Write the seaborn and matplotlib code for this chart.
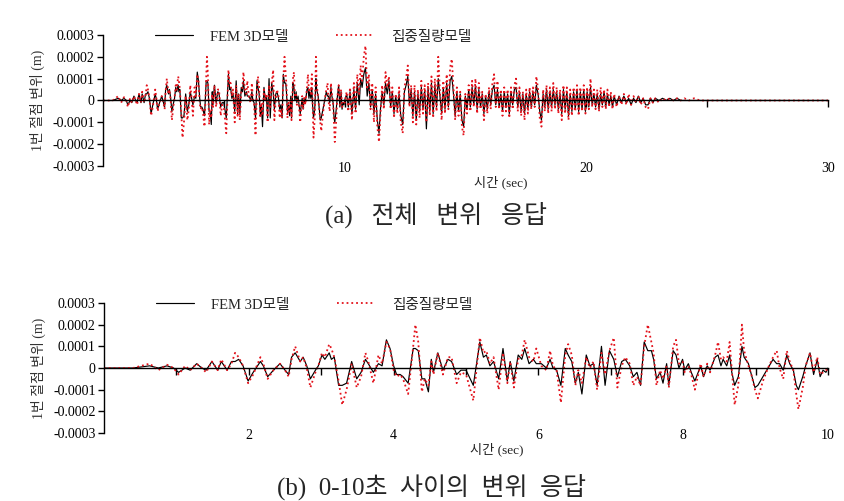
import numpy as np
import pandas as pd
import matplotlib
matplotlib.use("Agg")
import matplotlib.pyplot as plt
import seaborn as sns

# ---------------- data (displacement in units of 1e-5 m) ----------------
t_a = [0.00, 0.40, 0.63, 0.75, 0.87, 0.96, 1.03, 1.12, 1.19, 1.28, 1.35, 1.41, 1.49, 1.53,
       1.57, 1.62, 1.70, 1.76, 1.81, 1.86, 1.92, 1.99, 2.06, 2.16, 2.20, 2.26, 2.34, 2.43,
       2.50, 2.55, 2.59, 2.64, 2.71, 2.75, 2.80, 2.85, 2.92, 2.96, 3.01, 3.05, 3.11, 3.14,
       3.18, 3.24, 3.29, 3.35, 3.42, 3.49, 3.55, 3.61, 3.65, 3.72, 3.79, 3.84, 3.90, 3.95,
       4.00, 4.04, 4.09, 4.13, 4.20, 4.27, 4.30, 4.34, 4.39, 4.43, 4.48, 4.52, 4.55, 4.61,
       4.68, 4.75, 4.80, 4.87, 4.93, 5.00, 5.10, 5.19, 5.24, 5.28, 5.33, 5.38, 5.45, 5.51,
       5.57, 5.61, 5.66, 5.72, 5.77, 5.81, 5.87, 5.93, 5.97, 6.04, 6.11, 6.16, 6.20, 6.25,
       6.31, 6.37, 6.41, 6.46, 6.51, 6.55, 6.60, 6.66, 6.71, 6.76, 6.81, 6.87, 6.92, 6.98,
       7.04, 7.09, 7.15, 7.20, 7.26, 7.31, 7.36, 7.41, 7.46, 7.51, 7.56, 7.59, 7.63, 7.68,
       7.72, 7.77, 7.80, 7.86, 7.90, 7.94, 7.99, 8.02, 8.07, 8.11, 8.16, 8.24, 8.28, 8.33,
       8.37, 8.44, 8.48, 8.52, 8.55, 8.60, 8.64, 8.67, 8.71, 8.76, 8.81, 8.84, 8.90, 8.94,
       8.99, 9.03, 9.10, 9.17, 9.24, 9.29, 9.33, 9.38, 9.43, 9.47, 9.52, 9.56, 9.59, 9.65,
       9.69, 9.75, 9.80, 9.85, 9.89, 9.93, 9.97]
fem_a = [0, 0, 1, 0, 1, 0, -2, 0, -1, 2, 0, -1, 3, 1,
         -1, 3, -1, 3, 3, 4, 1, -6, -2, 3, 1, -4, -1, 2,
         -1, -3, 5, 7, 3, 5, 1, -5, -1, 1, 6, 4, 7, 4,
         5, -8, -8, -7, 3, -5, -2, 4, 2, -2, 2, 1, 13, 9,
         1, -3, -3, -4, -7, 9, 9, 8, -5, -5, -11, 4, -2, 7,
         -1, 4, 3, -3, -1, -1, -8, 12, 5, 6, 1, 3, -5, 9,
         -6, 3, -6, 6, 4, 9, 2, 4, 2, 2, 0, 4, 0, -1,
         -8, 9, 6, 3, -7, -2, -12, 6, 1, 2, -8, 10, -8, 8,
         4, -4, 3, 4, 1, -4, -2, -8, 12, 8, 8, 4, -5, -2,
         -7, 2, -8, 8, 6, 0, 4, -1, 2, -2, -6, 1, -4, 1,
         -1, 5, 6, 1, 4, 1, 6, -2, -8, -4, 10, 5, 2, -3,
         -9, -8, -4, 0, 4, 2, 2, -1, 6, 2, -1, -8, -10, -4,
         1, 7, -3, 4, -4, -1, -2]
lump_a = [0, 0, 2, -1, 1.5, 0, -3, 1, -1, 2, 0, -2, 3, 1,
          -1, 4, -1, 2, 7, 5, 1, -7, -3, 5, 2, -5, -1, 2,
          -1, -4, 4, 10, 3, 5, 0, -9, -2, 1, 7, 5, 11, 9,
          5, -6, -17, -10, 2, -9, -4, 7, 3, -7, 6, 2, 12, 9,
          -1, -4, -3, -5, -12, 10, 20, 12, -11, -5, -8, 3, -3, 7,
          -3, 5, 5, -7, -2, -3, -15, 14, 7, 8, 2, 5, -10, 7,
          -7, 3, -9, 4, 6, 13, 5, 3, 9, 1, -1, 8, 1, -1,
          -16, 6, 11, 6, -8, -1, -7, 5, 0, 3, -10, 7, -3, 8,
          14, -9, 1, 5, 2, -8, -4, -8, 10, 20, 12, 7, -8, -1,
          -5, 1, -9, 10, 13, 2, 3, -2, 1, -3, -10, 2, -4, 2,
          -2, 6, 12, 4, 5, 3, 12, -1, -17, -8, 20, 8, 1, -3,
          -10, -14, -6, 0, 5, 8, 0, -5, 8, 3, -1, -12, -19, -9,
          1, 7, -2, 5, -3, -2, -1]

t_b = [10.00, 10.08, 10.15, 10.22, 10.30, 10.38, 10.45, 10.52, 10.60, 10.66, 10.72, 10.79,
       10.86, 10.93, 11.00, 11.07, 11.14, 11.21, 11.28, 11.35, 11.42, 11.48, 11.55, 11.62,
       11.69, 11.76, 11.83, 11.90, 11.97, 12.04, 12.11, 12.18, 12.25, 12.32, 12.40, 12.47,
       12.54, 12.61, 12.68, 12.75, 12.82, 12.89, 12.96, 13.03, 13.10, 13.17, 13.24, 13.31,
       13.38, 13.45, 13.52, 13.59, 13.66, 13.73, 13.80, 13.87, 13.94, 14.01, 14.08, 14.15,
       14.22, 14.29, 14.36, 14.43, 14.50, 14.57, 14.64, 14.71, 14.78, 14.85, 14.92, 14.99,
       15.06, 15.13, 15.20, 15.27, 15.34, 15.41, 15.48, 15.55, 15.62, 15.69, 15.76, 15.83,
       15.90, 15.97, 16.04, 16.11, 16.18, 16.25, 16.32, 16.39, 16.46, 16.53, 16.60, 16.67,
       16.74, 16.81, 16.88, 16.95, 17.02, 17.09, 17.16, 17.23, 17.30, 17.37, 17.44, 17.51,
       17.58, 17.65, 17.72, 17.79, 17.86, 17.93, 18.00, 18.07, 18.14, 18.21, 18.28, 18.35,
       18.42, 18.49, 18.56, 18.63, 18.70, 18.77, 18.84, 18.91, 18.98, 19.05, 19.12, 19.19,
       19.26, 19.33, 19.40, 19.47, 19.54, 19.61, 19.68, 19.75, 19.82, 19.89, 19.96, 20.03,
       20.10, 20.17, 20.24, 20.31, 20.38, 20.45, 20.52, 20.59, 20.66, 20.73, 20.80, 20.87,
       20.94, 21.01, 21.08, 21.15, 21.25, 21.35, 21.45, 21.55, 21.65, 21.75, 21.85, 21.95,
       22.05, 22.15, 22.25, 22.35, 22.45, 22.55, 22.65, 22.75, 22.85, 23.00, 23.15, 23.30,
       23.45, 23.60, 23.75, 23.90, 24.05, 24.25, 24.45, 24.70, 30.00]
fem_b = [0, 3, -3, 4, -6, 5, -4, 8, -2, 10, 6, 12,
         15, 2, 8, -3, 5, -6, 3, -9, -15, -4, 4, -2,
         8, 3, 9, -3, 4, -6, 2, -4, 3, -7, -11, 4,
         7, 11, -2, 5, -7, 4, -9, 3, -5, 6, -4, 5,
         -13, 6, -5, 8, -6, 7, -3, 10, 2, -6, 6, -4,
         8, -3, 9, 11, 3, -7, 4, -5, 3, -9, -12, 2,
         -4, 5, -3, 6, -2, 7, -4, 5, -3, 3, -6, 2,
         -4, 4, -2, 5, 7, -2, 5, -3, 3, -5, 4, -3,
         3, -6, 4, -2, 5, 6, -3, 4, -5, 3, -6, 3,
         -4, 4, -3, 4, -2, 7, 3, -5, -9, 3, -3, 5,
         -4, 4, -3, 5, -2, 4, -4, 3, -6, 5, -4, 4,
         -7, 3, -5, 4, -4, 5, -5, 4, -4, 5, -5, 4,
         -3, 6, -2, 3, -3, 3, -4, 3, -2, 4, -3, 3,
         -2, 2, -3, 2, -2, 2, -1, 2, -1, 1, -2, 1,
         -1, 2, -1, 1, -2, -2, 1, -1, 1, 0, 1, 0,
         1, 0, 1, 0, 0, 0, 0, 0, 0]
lump_b = [-1, 4, -5, 6, -9, 8, -6, 12, 3, 16, 9, 20,
          25, 5, 12, -4, 8, -10, 6, -12, -19, -6, 7, -4,
          13, 6, 11, -4, 6, -8, 3, -6, 6, -10, -15, 6,
          10, 16, -3, 7, -10, 7, -11, 5, -8, 9, -6, 7,
          -10, 8, -7, 11, -8, 10, -5, 20, 4, -9, 9, -6,
          12, -4, 15, 19, 6, -9, 6, -7, 4, -12, -16, 3,
          -6, 7, -5, 9, -3, 10, -6, 8, -4, 4, -9, 3,
          -6, 6, -4, 8, 12, -3, 9, -4, 5, -7, 6, -5,
          5, -8, 6, -4, 7, 10, -5, 6, -7, 4, -9, 5,
          -6, 6, -4, 6, -3, 11, 5, -8, -12, 5, -5, 7,
          -6, 6, -5, 8, -4, 6, -6, 5, -9, 7, -6, 6,
          -9, 5, -7, 6, -5, 7, -7, 6, -5, 7, -6, 6,
          -4, 10, -3, 5, -4, 5, -5, 6, -3, 5, -4, 5,
          -3, 4, -4, 3, -3, 2, -2, 3, -2, 3, -2, 2,
          -1, 2, -2, 1, -3, -4, 1, -1, 1, -1, 1, 0,
          1, 0, 1, 0, 1, 0, 1, 0, 0]
UNIT = 1e-5

series_names = ["FEM 3D모델", "집중질량모델"]
full_xticks = [10, 20, 30]
full_xminor = [5, 15, 25]
zoom_xticks = [2, 4, 6, 8, 10]
zoom_xminor = [1, 3, 5, 7, 9]
y_ticks = [-0.0003, -0.0002, -0.0001, 0.0, 0.0001, 0.0002, 0.0003]
y_tick_labels = ["-0.0003", "-0.0002", "-0.0001", "0", "0.0001", "0.0002", "0.0003"]
y_label = "1번 절점 변위 (m)"
x_label = "시간 (sec)"
captions = ["(a)   전체   변위   응답", "(b)  0-10초  사이의  변위  응답"]

# ---------------- style ----------------
sns.set_style("ticks")
SERIF_KR = ["Liberation Serif", "Noto Sans CJK KR"]
plt.rcParams["font.family"] = SERIF_KR
plt.rcParams["axes.unicode_minus"] = False

df = pd.DataFrame({
    "t": t_a + t_b,
    "fem": np.array(fem_a + fem_b, dtype=float) * UNIT,
    "lump": np.array(lump_a + lump_b, dtype=float) * UNIT,
})

fig = plt.figure(figsize=(8.45, 5.01), dpi=100)
ax1 = fig.add_axes([0.1219, 0.6687, 0.8581, 0.2615])
ax2 = fig.add_axes([0.1231, 0.1357, 0.8569, 0.2595])


def draw(ax, d, xmax, major, minor, xlab_x):
    sns.lineplot(data=d, x="t", y="fem", color="black", linewidth=0.85,
                 label=series_names[0], ax=ax, estimator=None, sort=False)
    sns.lineplot(data=d, x="t", y="lump", color="#e3121b", linewidth=1.3,
                 linestyle=":", label=series_names[1], ax=ax, estimator=None, sort=False)
    ax.set_xlim(0, xmax)
    ax.set_ylim(-0.0003, 0.0003)
    ax.set_yticks(y_ticks, y_tick_labels)
    ax.set_xticks(major)
    ax.set_xticks(minor, minor=True)
    ax.spines["bottom"].set_position(("data", 0))
    ax.spines["top"].set_visible(False)
    ax.spines["right"].set_visible(False)
    for s in ("bottom", "left"):
        ax.spines[s].set_linewidth(1.0)
        ax.spines[s].set_color("black")
    ax.tick_params(axis="x", which="both", direction="out", length=5, width=1.0,
                   pad=39, labelsize=10, colors="black")
    ax.tick_params(axis="y", direction="out", length=4, width=1.0, labelsize=10,
                   pad=2, colors="black")
    ax.set_xlabel(x_label, fontsize=9.5, color="#222222")
    ax.xaxis.set_label_coords(xlab_x, -0.075)
    ax.set_ylabel(y_label, fontsize=10, color="#333333")
    ax.yaxis.set_label_coords(-0.08, 0.5)
    ax.legend(loc="center left", bbox_to_anchor=(0.072, 0.985), ncol=2, frameon=False,
              fontsize=10.5, handlelength=2.6, handletextpad=1.15, columnspacing=3.3,
              borderpad=0, borderaxespad=0)


draw(ax1, df, 30, full_xticks, full_xminor, 0.548)
draw(ax2, df[df["t"] <= 10], 10, zoom_xticks, zoom_xminor, 0.543)

fig.text(436 / 845, 1 - 215 / 501, captions[0], ha="center", va="center", fontsize=18)
fig.text(432 / 845, 1 - 487 / 501, captions[1], ha="center", va="center", fontsize=18)

fig.savefig("out.png", dpi=100)
